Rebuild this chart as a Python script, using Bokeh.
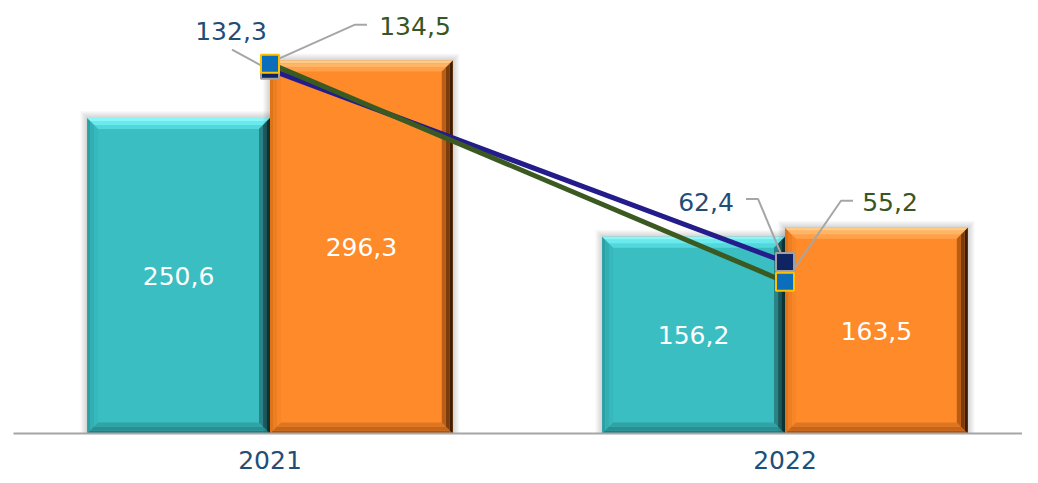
from bokeh.plotting import figure
from bokeh.models import Range1d, FixedTicker
from bokeh.core.properties import value
from bokeh.embed import file_html
from bokeh.resources import INLINE

# ---- data ----
categories = ["2021", "2022"]
bars_teal = [250.6, 156.2]
bars_orange = [296.3, 163.5]
line_navy = [132.3, 62.4]
line_green = [134.5, 55.2]

def fmt(v):
    return f"{v:.1f}".replace(".", ",")

# ---- layout / scales ----
LEFT = 13
FW, FH = 1022 - LEFT, 433
PX_CAT = 515.0
X0 = -(269.5 - LEFT) / PX_CAT
X1 = X0 + FW / PX_CAT
Y1_END = FH / 1.259
Y2_END = FH / 2.75
ux = (X1 - X0) / FW
uy = Y1_END / FH
uy2 = Y2_END / FH

FONT = value("DejaVu Sans")

p = figure(width=1022, height=475, x_range=Range1d(X0, X1), y_range=Range1d(0, Y1_END),
           output_backend="svg", toolbar_location=None, y_axis_location=None,
           min_border_left=LEFT, min_border_right=0, min_border_top=0, min_border_bottom=42,
           background_fill_color="white", border_fill_color="white", outline_line_color=None)
p.extra_y_ranges = {"y2": Range1d(0, Y2_END)}
p.xgrid.visible = False
p.ygrid.visible = False

ax = p.xaxis[0]
ax.ticker = FixedTicker(ticks=list(range(len(categories))))
ax.major_label_overrides = {i: c for i, c in enumerate(categories)}
ax.major_tick_line_color = None
ax.minor_tick_line_color = None
ax.axis_line_color = "#A6A6A6"
ax.axis_line_width = 2
ax.major_label_text_font = "DejaVu Sans"
ax.major_label_text_font_size = "25px"
ax.major_label_text_color = "#1F4E79"
ax.major_label_standoff = 11

BW = 0.355

def draw_bar(x0, x1, top, main, bands):
    for k in range(1, 8):
        p.quad(left=[x0 - k * ux], right=[x1 + k * ux], bottom=[0], top=[top + k * uy],
               fill_color="black", fill_alpha=0.024, line_color=None)
    p.quad(left=[x0], right=[x1], bottom=[0], top=[top], fill_color=main, line_color=None)
    for d0, d1, cols in bands:
        a0x, a0y, a1x, a1y = d0 * ux, d0 * uy, d1 * ux, d1 * uy
        polys = {
            "top": ([x0 + a0x, x1 - a0x, x1 - a1x, x0 + a1x], [top - a0y, top - a0y, top - a1y, top - a1y]),
            "bottom": ([x0 + a0x, x1 - a0x, x1 - a1x, x0 + a1x], [a0y, a0y, a1y, a1y]),
            "left": ([x0 + a0x, x0 + a1x, x0 + a1x, x0 + a0x], [top - a0y, top - a1y, a1y, a0y]),
            "right": ([x1 - a0x, x1 - a1x, x1 - a1x, x1 - a0x], [top - a0y, top - a1y, a1y, a0y]),
        }
        for side in ("left", "bottom", "top", "right"):
            xs_, ys_ = polys[side]
            p.patch(xs_, ys_, fill_color=cols[side], line_color=None)

teal_bands = [
    (0, 3, {"top": "#8AF6F8", "bottom": "#237C80", "left": "#2C9FA3", "right": "#123E40"}),
    (3, 7, {"top": "#6BEAEE", "bottom": "#2A8E92", "left": "#32AFB3", "right": "#1E5F62"}),
    (7, 11, {"top": "#52D8DC", "bottom": "#31A2A6", "left": "#37B8BC", "right": "#2A8387"}),
]
orange_bands = [
    (0, 3, {"top": "#FFCC88", "bottom": "#A85412", "left": "#E07418", "right": "#3E1D04"}),
    (3, 7, {"top": "#FFB566", "bottom": "#C4661A", "left": "#EE7E22", "right": "#7A3C0C"}),
    (7, 11, {"top": "#FFA04A", "bottom": "#DD7622", "left": "#F88628", "right": "#B95C16"}),
]

for i in range(len(categories)):
    draw_bar(i - BW, i, bars_teal[i], "#3BBEC2", teal_bands)
    draw_bar(i, i + BW, bars_orange[i], "#FE8A2A", orange_bands)

xs = list(range(len(categories)))
p.text(x=[i - BW / 2 for i in xs], y=[v / 2 for v in bars_teal], text=[fmt(v) for v in bars_teal],
       text_font=FONT, text_font_size="25px", text_color="white", text_align="center", text_baseline="middle")
p.text(x=[i + BW / 2 for i in xs], y=[v / 2 for v in bars_orange], text=[fmt(v) for v in bars_orange],
       text_font=FONT, text_font_size="25px", text_color="white", text_align="center", text_baseline="middle")

p.line(xs, line_navy, y_range_name="y2", line_color="#231C8A", line_width=5)
p.line(xs, line_green, y_range_name="y2", line_color="#3A5A22", line_width=5)

# leader lines (pixel offsets from points: dx right, dy up)
leaders_navy = [[(-38, 20), (-3, 1)], [(-39, 63), (-27, 63), (-1, 1)]]
leaders_green = [[(97, 39), (85, 39), (0, 1)], [(68, 81), (56, 81), (1, 1)]]
for series, leaders in ((line_navy, leaders_navy), (line_green, leaders_green)):
    for i, pts in enumerate(leaders):
        p.line([i + dx * ux for dx, dy in pts], [series[i] + dy * uy2 for dx, dy in pts],
               y_range_name="y2", line_color="#A6A6A6", line_width=2)

p.scatter(xs, line_navy, y_range_name="y2", marker="square", size=18,
          fill_color="#0E2463", line_color="#A0A0A0", line_width=2)
p.scatter(xs, line_green, y_range_name="y2", marker="square", size=18,
          fill_color="#0A6EBD", line_color="#FFC000", line_width=2)

navy_off = [(-39, 39), (-79, 60)]
green_off = [(145, 38), (105, 80)]
p.text(x=[i + navy_off[i][0] * ux for i in xs], y=[line_navy[i] + navy_off[i][1] * uy2 for i in xs],
       text=[fmt(v) for v in line_navy], y_range_name="y2",
       text_font=FONT, text_font_size="25px", text_color="#1F4E79", text_align="center", text_baseline="middle")
p.text(x=[i + green_off[i][0] * ux for i in xs], y=[line_green[i] + green_off[i][1] * uy2 for i in xs],
       text=[fmt(v) for v in line_green], y_range_name="y2",
       text_font=FONT, text_font_size="25px", text_color="#375623", text_align="center", text_baseline="middle")

open("out.html", "w").write(file_html(p, INLINE))
